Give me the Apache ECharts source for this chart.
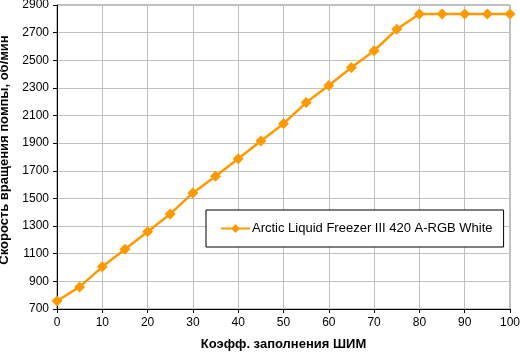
<!DOCTYPE html>
<html>
<head>
<meta charset="utf-8">
<script src="https://cdn.jsdelivr.net/npm/echarts@6/dist/echarts.min.js"></script>
<style>html,body{margin:0;padding:0;background:#fff}#c{width:520px;height:355px}</style>
</head>
<body>
<div id="c"></div>
<script>
const pwmDuty = [0,5,10,15,20,25,30,35,40,45,50,55,60,65,70,75,80,85,90,95,100];
const pumpRpm = [758,860,1005,1133,1259,1388,1540,1661,1787,1915,2041,2194,2317,2448,2569,2724,2835,2835,2835,2835,2835];
const seriesName = 'Arctic Liquid Freezer III 420 A-RGB White';
const xTitle = 'Коэфф. заполнения ШИМ';
const yTitle = 'Скорость вращения помпы, об/мин';

const chart = echarts.init(document.getElementById('c'), null, {renderer:'canvas'});
const font = 'Arial, "Liberation Sans", sans-serif';
chart.setOption({
  animation:false,
  backgroundColor:'#fff',
  grid:{left:57, right:10, top:5, bottom:46, show:true, borderColor:'#808080', borderWidth:1,
        containLabel:false, outerBoundsMode:'none'},
  legend:{
    left:206, top:210, padding:[12,11,12,14],
    borderColor:'#000', borderWidth:1, backgroundColor:'#fff',
    itemWidth:29, itemHeight:11,
    textStyle:{fontFamily:font, fontSize:13, color:'#000', padding:[0,0,0,-3]},
    data:[seriesName]
  },
  xAxis:{
    type:'value', min:0, max:100, interval:10,
    name:xTitle, nameLocation:'middle', nameGap:29,
    nameTextStyle:{fontFamily:font, fontSize:13, fontWeight:'bold', color:'#000'},
    axisLine:{lineStyle:{color:'#000', width:1}},
    axisTick:{show:true, length:4, lineStyle:{color:'#000'}},
    axisLabel:{fontFamily:font, fontSize:12, color:'#000', margin:8},
    splitLine:{show:true, lineStyle:{color:'#c0c0c0', width:1}}
  },
  yAxis:{
    type:'value', min:700, max:2900, interval:200,
    name:yTitle, nameLocation:'middle', nameGap:42,
    nameTextStyle:{fontFamily:font, fontSize:13, fontWeight:'bold', color:'#000', padding:[0,0,0,14]},
    axisLine:{show:true, lineStyle:{color:'#000', width:1}},
    axisTick:{show:true, length:4, lineStyle:{color:'#000'}},
    axisLabel:{fontFamily:font, fontSize:12, color:'#000', margin:8, formatter:v=>String(v)},
    splitLine:{show:true, lineStyle:{color:'#c0c0c0', width:1}}
  },
  series:[{
    name:seriesName, type:'line',
    data:pwmDuty.map((x,i)=>[x,pumpRpm[i]]),
    symbol:'diamond', symbolSize:11,
    lineStyle:{color:'#FF9900', width:2.5},
    itemStyle:{color:'#FF9900'},
    clip:false
  }]
});
</script>
</body>
</html>
